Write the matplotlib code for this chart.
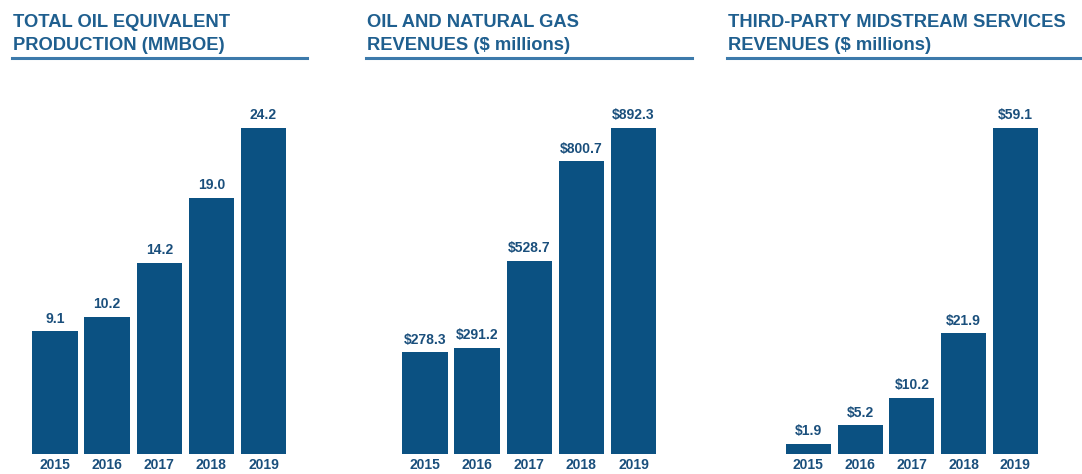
import matplotlib
matplotlib.use("Agg")
import matplotlib.pyplot as plt
from matplotlib.lines import Line2D

years = ["2015", "2016", "2017", "2018", "2019"]
production = [9.1, 10.2, 14.2, 19.0, 24.2]
oil_gas_rev = [278.3, 291.2, 528.7, 800.7, 892.3]
midstream_rev = [1.9, 5.2, 10.2, 21.9, 59.1]

titles = [
    ("TOTAL OIL EQUIVALENT", "PRODUCTION (MMBOE)"),
    ("OIL AND NATURAL GAS", "REVENUES ($ millions)"),
    ("THIRD-PARTY MIDSTREAM SERVICES", "REVENUES ($ millions)"),
]
series = [production, oil_gas_rev, midstream_rev]
fmts = ["{:.1f}", "${:.1f}", "${:.1f}"]

W, H = 1082, 474
fig = plt.figure(figsize=(W / 100, H / 100), dpi=100)
plt.rcParams['font.family'] = ['Liberation Sans', 'DejaVu Sans']

BAR = "#0b5182"
TXT = "#1a4f7c"
TITLE = "#1f5f8f"
LINE = "#3d7aab"

ax_left = [29, 399, 782.5]
pitch = [52.1, 52.1, 51.75]
title_x = [13, 367, 728]
rule = [(12, 307), (366, 692), (727, 1082)]
base_y, top_y = 454, 128

for i in range(3):
    w = 5 * pitch[i]
    ax = fig.add_axes([ax_left[i] / W, (H - base_y) / H, w / W, (base_y - top_y) / H])
    vals = series[i]
    x = list(range(len(years)))
    bars = ax.bar(x, vals, width=0.87, color=BAR)
    ax.set_xlim(-0.5, 4.5)
    ax.set_ylim(0, max(vals))
    for b, v in zip(bars, vals):
        ax.annotate(fmts[i].format(v), (b.get_x() + b.get_width() / 2, v),
                    xytext=(0, 4), textcoords="offset points", ha="center",
                    va="bottom", fontsize=10, fontweight="bold", color=TXT,
                    annotation_clip=False)
    ax.set_xticks(x)
    ax.set_xticklabels(years, fontsize=10, fontweight="bold", color=TXT)
    ax.tick_params(axis="x", length=0, pad=3)
    ax.set_yticks([])
    for s in ax.spines.values():
        s.set_visible(False)
    ax.patch.set_alpha(0)

    fig.text(title_x[i] / W, 1 - 14 / H, titles[i][0], fontsize=13.2, fontweight="bold",
             color=TITLE, va="top", ha="left")
    fig.text(title_x[i] / W, 1 - 37 / H, titles[i][1], fontsize=13.2, fontweight="bold",
             color=TITLE, va="top", ha="left")
    fig.add_artist(Line2D([rule[i][0] / W, rule[i][1] / W], [1 - 58 / H, 1 - 58 / H],
                          color=LINE, linewidth=2.2, transform=fig.transFigure))

fig.savefig("out.png", dpi=100)
